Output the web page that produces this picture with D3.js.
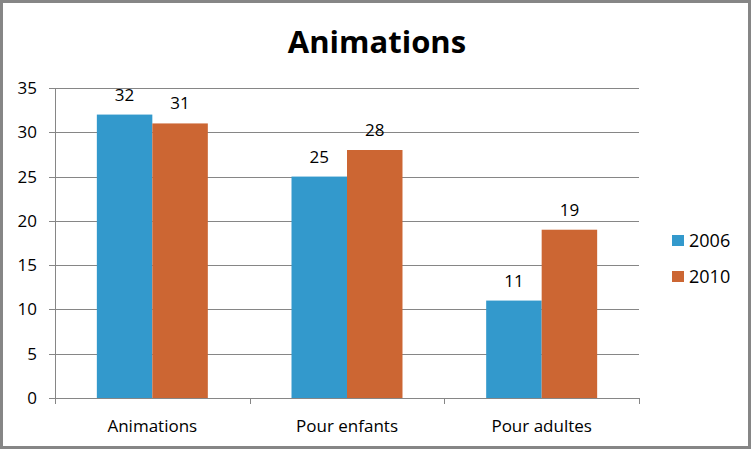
<!DOCTYPE html>
<html>
<head>
<meta charset="utf-8">
<script src="https://d3js.org/d3.v7.min.js"></script>
<style>
  body { margin: 0; background: #fff; }
  svg { display: block; }
</style>
</head>
<body>
<svg id="chart" width="753" height="451"></svg>
<script>
var categories = ["Animations", "Pour enfants", "Pour adultes"];
var seriesNames = ["2006", "2010"];
var values2006 = [32, 25, 11];
var values2010 = [31, 28, 19];
var yTicks = [0, 5, 10, 15, 20, 25, 30, 35];
var colors = ["#3399cc", "#cc6633"];

var font = "'Open Sans', 'Noto Sans', sans-serif";
var svg = d3.select("#chart");

// frame
svg.append("rect")
    .attr("x", 1.5).attr("y", 1.5)
    .attr("width", 748).attr("height", 446)
    .attr("fill", "#fff")
    .attr("stroke", "#868686")
    .attr("stroke-width", 3);

svg.append("text")
    .attr("x", 377).attr("y", 53)
    .attr("text-anchor", "middle")
    .attr("font-family", font)
    .attr("font-weight", "bold")
    .attr("font-size", 31)
    .text("Animations");

var plotLeft = 55, plotRight = 639, plotTop = 88, plotBottom = 398;

var x0 = d3.scaleBand().domain(categories).range([plotLeft, plotRight]).padding(0);
var x1 = d3.scaleBand().domain(seriesNames).range([0, x0.bandwidth()])
    .paddingInner(0).paddingOuter(0.754);
var y = d3.scaleLinear().domain([0, 35]).range([plotBottom, plotTop]);

// gridlines
svg.append("g").selectAll("line")
    .data(yTicks)
    .enter().append("line")
    .attr("x1", plotLeft - 6).attr("x2", plotRight)
    .attr("y1", d => Math.round(y(d)) + 0.5).attr("y2", d => Math.round(y(d)) + 0.5)
    .attr("stroke", "#868686").attr("stroke-width", 1);

// y axis line
svg.append("line")
    .attr("x1", plotLeft + 0.5).attr("x2", plotLeft + 0.5)
    .attr("y1", plotTop).attr("y2", plotBottom + 0.5)
    .attr("stroke", "#868686");

svg.append("g").selectAll("text")
    .data(yTicks)
    .enter().append("text")
    .attr("x", 37).attr("y", d => y(d) + 6)
    .attr("text-anchor", "end")
    .attr("font-family", font).attr("font-size", 17)
    .attr("fill", "#000")
    .text(d => d);

// category ticks
var catEdges = categories.map(c => x0(c)).concat([plotRight]);
svg.append("g").selectAll("line")
    .data(catEdges)
    .enter().append("line")
    .attr("x1", d => Math.round(d) + 0.5).attr("x2", d => Math.round(d) + 0.5)
    .attr("y1", plotBottom).attr("y2", plotBottom + 6)
    .attr("stroke", "#868686");

var rows = categories.map((c, i) => ({cat: c, vals: [values2006[i], values2010[i]]}));

var groups = svg.append("g").selectAll("g")
    .data(rows)
    .enter().append("g")
    .attr("transform", d => "translate(" + x0(d.cat) + ",0)");

groups.selectAll("rect")
    .data(d => d.vals.map((v, j) => ({name: seriesNames[j], v: v, j: j})))
    .enter().append("rect")
    .attr("x", d => x1(d.name))
    .attr("width", x1.bandwidth())
    .attr("y", d => y(d.v))
    .attr("height", d => y(0) - y(d.v))
    .attr("fill", d => colors[d.j]);

groups.selectAll("text.val")
    .data(d => d.vals.map((v, j) => ({name: seriesNames[j], v: v, j: j})))
    .enter().append("text")
    .attr("class", "val")
    .attr("x", d => x1(d.name) + x1.bandwidth() / 2)
    .attr("y", d => y(d.v) - 14)
    .attr("text-anchor", "middle")
    .attr("font-family", font).attr("font-size", 17)
    .text(d => d.v);

svg.append("g").selectAll("text")
    .data(categories)
    .enter().append("text")
    .attr("x", d => x0(d) + x0.bandwidth() / 2)
    .attr("y", 432)
    .attr("text-anchor", "middle")
    .attr("font-family", font).attr("font-size", 17)
    .text(d => d);

// legend
var legend = svg.append("g").selectAll("g")
    .data(seriesNames)
    .enter().append("g")
    .attr("transform", (d, i) => "translate(672," + (235 + i * 36) + ")");
legend.append("rect")
    .attr("width", 12).attr("height", 11)
    .attr("fill", (d, i) => colors[i]);
legend.append("text")
    .attr("x", 17).attr("y", 12)
    .attr("font-family", font).attr("font-size", 18)
    .text(d => d);
</script>
</body>
</html>
